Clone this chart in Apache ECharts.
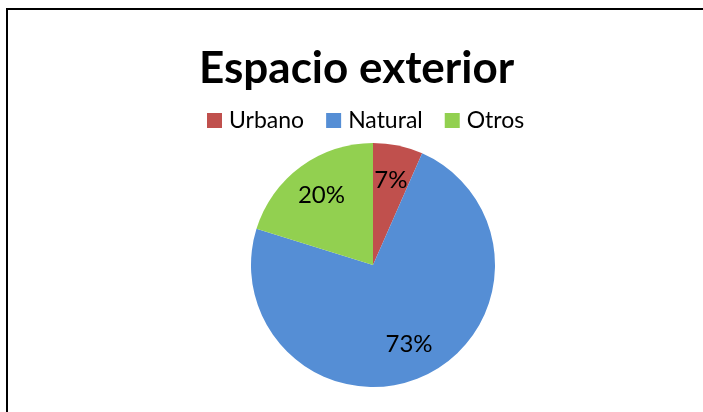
<!DOCTYPE html>
<html>
<head>
<meta charset="utf-8">
<script src="https://cdn.jsdelivr.net/npm/echarts@6/dist/echarts.min.js"></script>
<style>
	html, body {margin:0; padding:0; background:#fff; overflow:hidden;}
	#pie1 {width:703px; height:412px;}
</style>
</head>
<body>
<div id="pie1"></div>
<script>
var categories = ['Urbano', 'Natural', 'Otros'];
var shares = [6.6, 73.2, 20.2];
var colors = ['#C0504D', '#558ED5', '#92D050'];

function getSeriesData() {
	var arr = new Array();
	for (var i = 0; i < categories.length; i++) {
		arr.push({name: categories[i], value: shares[i]});
	}
	return arr;
}

function getOptions() {
	var option = {
		color: colors,
		animation: false,
		title: {
			text: 'Espacio exterior',
			left: 199,
			top: 47,
			padding: 0,
			textStyle: {fontFamily: 'Lato', fontWeight: 'bold', fontSize: 44, color: '#000'}
		},
		legend: {
			data: categories,
			left: 202,
			top: 104,
			itemWidth: 15,
			itemHeight: 15,
			itemGap: 22,
			icon: 'rect',
			textStyle: {fontFamily: 'Lato', fontSize: 23, color: '#000', padding: [0, 0, 0, 2]}
		},
		// chart frame: only the top and left edges are inside the picture
		graphic: [
			{type: 'line', silent: true, shape: {x1: 6, y1: 9, x2: 703, y2: 9}, style: {stroke: '#000', lineWidth: 2}},
			{type: 'line', silent: true, shape: {x1: 7, y1: 8, x2: 7, y2: 412}, style: {stroke: '#000', lineWidth: 2}}
		],
		series: [
			{
				type: 'pie',
				center: [373, 265],
				radius: 122,
				startAngle: 90,
				clockwise: true,
				label: {show: false},
				labelLine: {show: false},
				emphasis: {disabled: true},
				data: getSeriesData()
			},
			{
				// transparent ring, only used to place the percent labels further out
				type: 'pie',
				center: [373, 265],
				radius: [46, 122],
				startAngle: 90,
				clockwise: true,
				silent: true,
				percentPrecision: 0,
				itemStyle: {color: 'rgba(0,0,0,0)'},
				label: {
					show: true,
					position: 'inside',
					formatter: '{d}%',
					fontFamily: 'Lato',
					fontSize: 24,
					color: '#000'
				},
				labelLine: {show: false},
				data: getSeriesData()
			}
		]
	};
	return option;
}

var myChart = echarts.init(document.getElementById('pie1'));
var option = getOptions();
if (option && typeof option === 'object') {
	myChart.setOption(option, true);
}
</script>
</body>
</html>
